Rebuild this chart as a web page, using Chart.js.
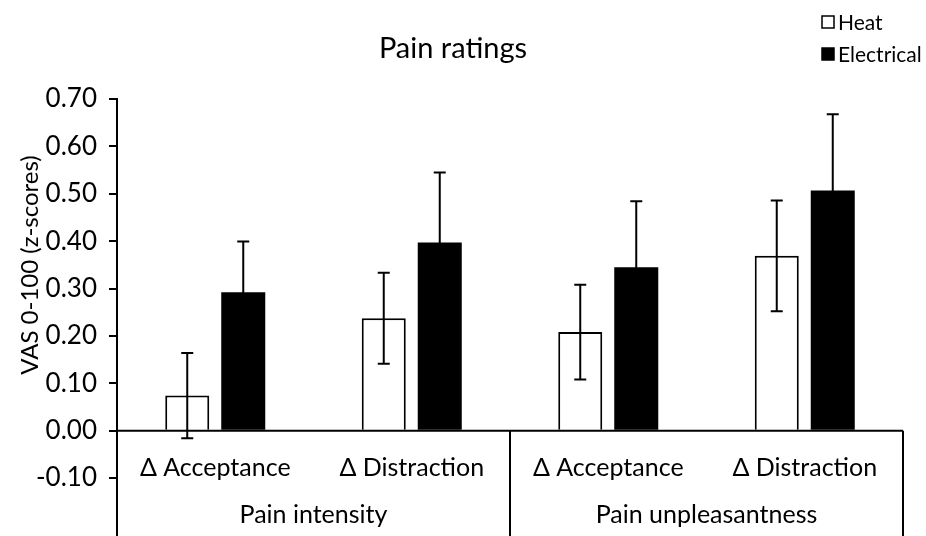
<!DOCTYPE html>
<html>
<head>
<meta charset="utf-8">
<script src="https://cdn.jsdelivr.net/npm/chart.js@4.4.1/dist/chart.umd.min.js"></script>
<style>
  html, body { margin: 0; padding: 0; background: #fff; }
  #wrap { width: 926px; height: 536px; position: relative; }
</style>
</head>
<body>
<div id="wrap"><canvas id="painChart"></canvas></div>
<script>
// data
const categories = ["Δ Acceptance", "Δ Distraction", "Δ Acceptance", "Δ Distraction"];
const groups = ["Pain intensity", "Pain unpleasantness"];
const heat = [0.074, 0.237, 0.208, 0.369];
const heatErr = [0.090, 0.096, 0.100, 0.117];
const electrical = [0.292, 0.397, 0.345, 0.507];
const electricalErr = [0.107, 0.148, 0.139, 0.161];
const yTicks = [-0.10, 0.00, 0.10, 0.20, 0.30, 0.40, 0.50, 0.60, 0.70];

const FONT = "Lato, 'DejaVu Sans', sans-serif";

// error bars, axis line at zero, group labels, title, legend
const extras = {
    id: "extras",
    afterDatasetsDraw(chart) {
        const ctx = chart.ctx;
        const x = chart.scales.x;
        const y = chart.scales.y;
        const area = chart.chartArea;
        const errs = [heatErr, electricalErr];

        ctx.save();
        ctx.strokeStyle = "#000";
        ctx.lineWidth = 2;

        chart.data.datasets.forEach((ds, di) => {
            const meta = chart.getDatasetMeta(di);
            meta.data.forEach((bar, i) => {
                const v = ds.data[i], e = errs[di][i];
                const top = y.getPixelForValue(v + e);
                const bot = y.getPixelForValue(v - e);
                ctx.beginPath();
                ctx.moveTo(bar.x, top); ctx.lineTo(bar.x, bot);
                ctx.moveTo(bar.x - 6, top); ctx.lineTo(bar.x + 6, top);
                ctx.moveTo(bar.x - 6, bot); ctx.lineTo(bar.x + 6, bot);
                ctx.stroke();
            });
        });

        // category axis at zero
        const y0 = y.getPixelForValue(0);
        const bottom = chart.height;
        ctx.beginPath();
        ctx.moveTo(area.left, y0); ctx.lineTo(area.right, y0);
        // group borders
        const mid = (x.getPixelForValue(1) + x.getPixelForValue(2)) / 2;
        ctx.moveTo(area.left, area.bottom); ctx.lineTo(area.left, bottom);
        ctx.moveTo(mid, y0); ctx.lineTo(mid, bottom);
        ctx.moveTo(area.right, y0); ctx.lineTo(area.right, bottom);
        ctx.stroke();

        ctx.fillStyle = "#000";
        ctx.textAlign = "center";
        ctx.textBaseline = "alphabetic";
        ctx.font = "25px " + FONT;
        categories.forEach((c, i) => ctx.fillText(c, x.getPixelForValue(i), y0 + 45));
        groups.forEach((g, gi) => {
            const cx = (x.getPixelForValue(gi * 2) + x.getPixelForValue(gi * 2 + 1)) / 2;
            ctx.fillText(g, cx, y0 + 92);
        });

        // y axis title
        ctx.save();
        ctx.font = "24px " + FONT;
        ctx.translate(30, 265);
        ctx.rotate(-Math.PI / 2);
        ctx.textBaseline = "middle";
        ctx.fillText("VAS 0-100 (z-scores)", 0, 0);
        ctx.restore();

        // title
        ctx.font = "29px " + FONT;
        ctx.fillText("Pain ratings", 453, 58);

        // legend
        ctx.font = "21px " + FONT;
        ctx.textAlign = "left";
        ctx.textBaseline = "middle";
        const rows = [
            { label: "Heat", fill: "#fff", yc: 22 },
            { label: "Electrical", fill: "#000", yc: 54 }
        ];
        rows.forEach(r => {
            ctx.fillStyle = r.fill;
            ctx.fillRect(822, r.yc - 6, 12, 12);
            ctx.lineWidth = 1.5;
            ctx.strokeRect(822, r.yc - 6, 12, 12);
            ctx.fillStyle = "#000";
            ctx.fillText(r.label, 838, r.yc + 1);
        });
        ctx.restore();
    }
};

function draw() {
    new Chart(document.getElementById("painChart"), {
        type: "bar",
        data: {
            labels: categories,
            datasets: [
                { label: "Heat", data: heat, backgroundColor: "#fff", borderColor: "#000", borderWidth: 2 },
                { label: "Electrical", data: electrical, backgroundColor: "#000", borderColor: "#000", borderWidth: 0 }
            ]
        },
        options: {
            responsive: false,
            animation: false,
            devicePixelRatio: 1,
            categoryPercentage: 0.57,
            barPercentage: 0.786,
            layout: { padding: { left: 0, top: 99, right: 23, bottom: 58 } },
            plugins: { legend: { display: false }, title: { display: false }, tooltip: { enabled: false } },
            scales: {
                x: { display: false, offset: true },
                y: {
                    min: -0.10, max: 0.70,
                    afterFit(scale) { scale.width = 117; },
                    afterBuildTicks(scale) { scale.ticks = yTicks.map(v => ({ value: v })); },
                    ticks: {
                        padding: 12,
                        color: "#000",
                        font: { family: FONT, size: 26 },
                        callback: v => v.toFixed(2)
                    },
                    grid: { drawOnChartArea: false, drawTicks: true, tickLength: 8, color: "#000", lineWidth: 2 },
                    border: { display: true, color: "#000", width: 2 }
                }
            }
        },
        plugins: [extras]
    });
}

const c = document.getElementById("painChart");
c.width = 926; c.height = 536;
c.style.width = "926px"; c.style.height = "536px";
if (document.fonts && document.fonts.load) {
    document.fonts.load("24px Lato").then(draw, draw);
} else {
    draw();
}
</script>
</body>
</html>
